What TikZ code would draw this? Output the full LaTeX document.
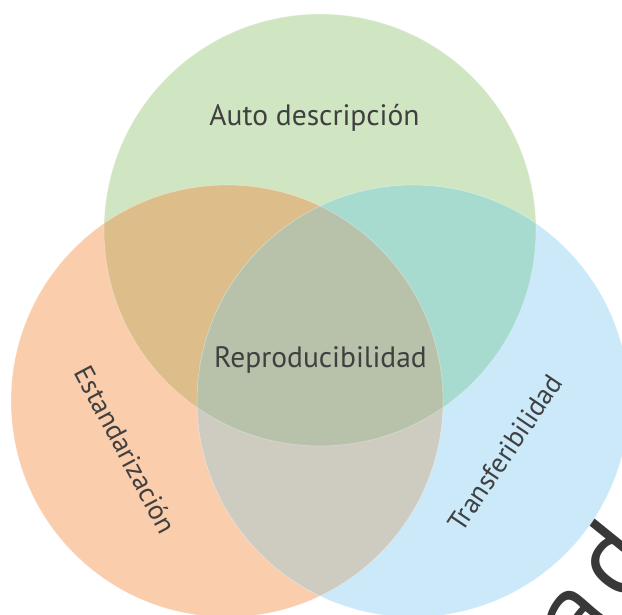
\documentclass[tikz,border=0pt]{standalone}
\usepackage{fontspec}
\setmainfont{PT Sans}
\definecolor{cg}{RGB}{208,230,194}
\definecolor{co}{RGB}{250,205,173}
\definecolor{cb}{RGB}{203,233,249}
\definecolor{cog}{RGB}{221,190,138}
\definecolor{cgb}{RGB}{168,219,208}
\definecolor{cob}{RGB}{206,204,192}
\definecolor{cogb}{RGB}{184,194,170}
\definecolor{txt}{RGB}{64,64,64}
\begin{document}
\begin{tikzpicture}[x=1pt,y=-1pt,
  lab/.style={text=txt,font=\fontsize{29.5}{32}\selectfont,inner sep=0pt},
  rlab/.style={lab,font=\fontsize{27.5}{30}\selectfont},
  edge/.style={draw=white,draw opacity=0.35,line width=0.6pt}]
\useasboundingbox (0,0) rectangle (622,614);
\begin{scope}
\clip (0,0) rectangle (622,614);
% watermark fragment
\node[text=black!78,font=\fontsize{108}{120}\selectfont,rotate=51,inner sep=0pt] (wm) at (591,584) {a\kern11pt d};
\coordinate (G) at (320,230);
\coordinate (O) at (227,401);
\coordinate (B) at (413,401);
\def\R{216}
\fill[cg] (G) circle (\R);
\fill[co] (O) circle (\R);
\fill[cb] (B) circle (\R);
\begin{scope}
  \clip (O) circle (\R);
  \fill[cog] (G) circle (\R);
  \fill[cob] (B) circle (\R);
\end{scope}
\begin{scope}
  \clip (G) circle (\R);
  \fill[cgb] (B) circle (\R);
  \clip (O) circle (\R);
  \fill[cogb] (B) circle (\R);
\end{scope}
\draw[edge] (G) circle (\R);
\draw[edge] (O) circle (\R);
\draw[edge] (B) circle (\R);
\end{scope}
\node[lab,anchor=base] (auto) at (314.5,125) {Auto descripción};
\node[lab,anchor=base] (rep) at (320.5,367) {Reproducibilidad};
\node[rlab,rotate=-62] (est) at (126,450) {Estandarización};
\node[rlab,rotate=56] (tra) at (505,453) {Transferibilidad};
\end{tikzpicture}
\end{document}
